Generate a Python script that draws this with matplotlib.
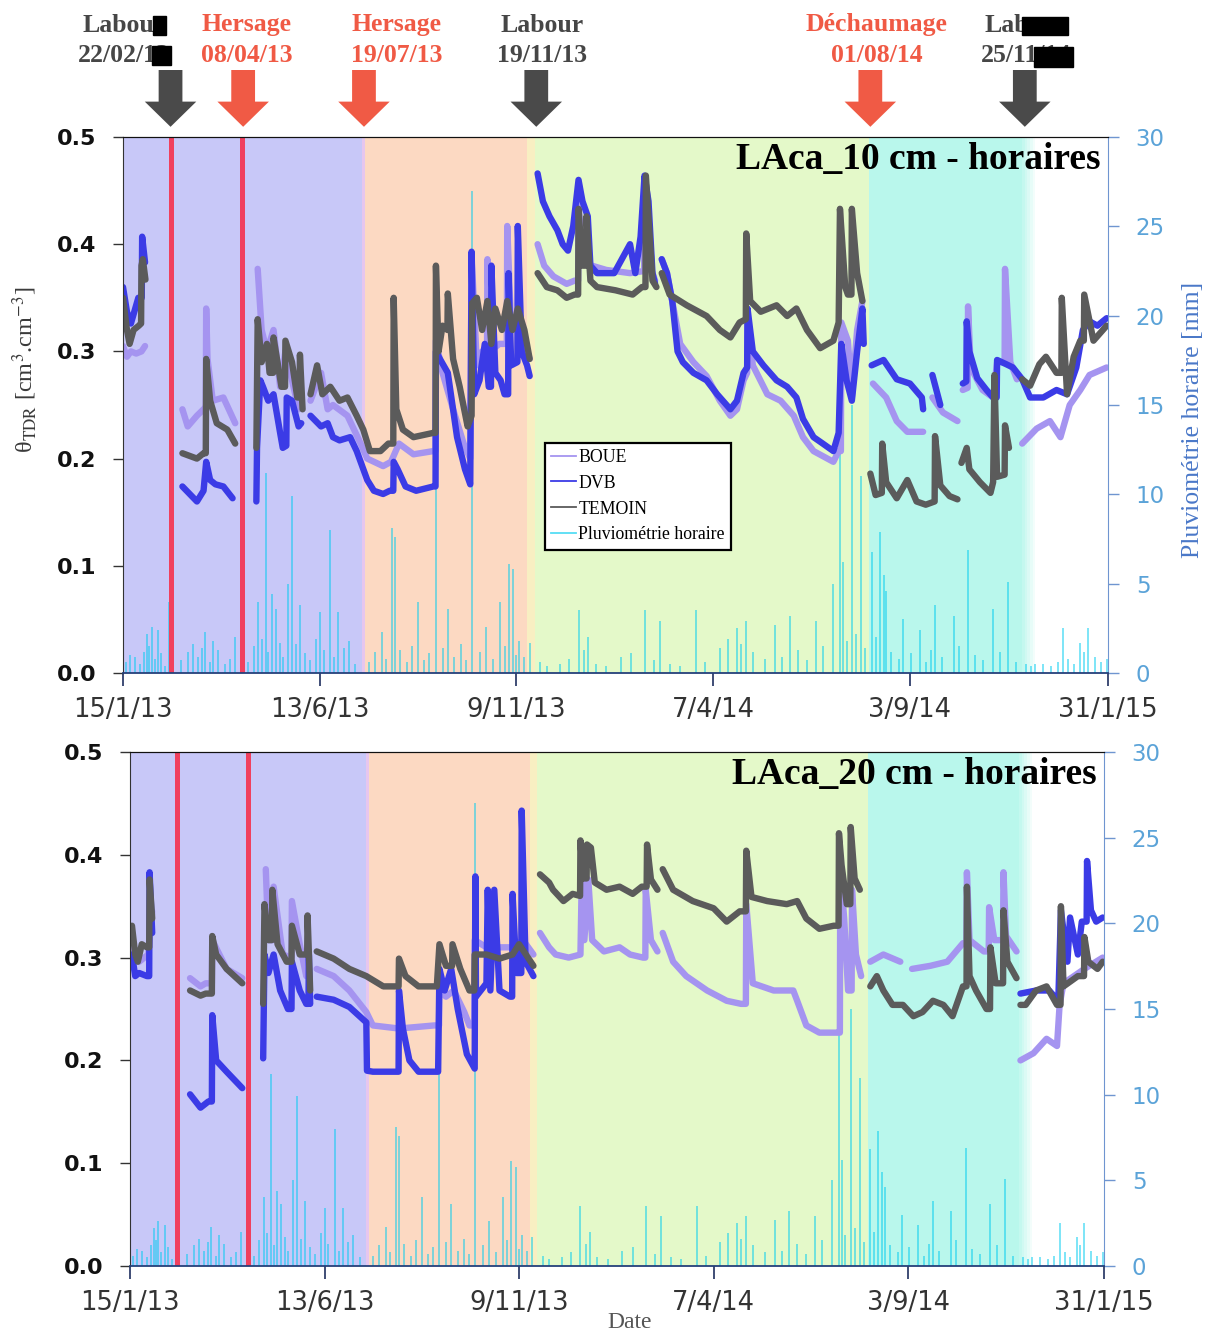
import numpy as np
import matplotlib
matplotlib.use("Agg")
from matplotlib import pyplot as plt
import matplotlib.dates as mdates
import matplotlib.transforms as mtransforms
from matplotlib.patches import FancyArrow, Rectangle
from matplotlib.lines import Line2D

plt.rcParams["mathtext.fontset"] = "stix"

W, H = 1211, 1333
START = "2013-01-15"
SERIF = ["Liberation Serif", "DejaVu Serif"]

# axe des x (jours depuis le 15/1/13)
tick_days = [0, 149, 298, 447, 596, 746]
tick_labels = ["15/1/13", "13/6/13", "9/11/13", "7/4/14", "3/9/14", "31/1/15"]

# periodes culturales (debut, fin en jours)
period_start = [0, 181, 183, 306, 312, 565]
period_end = [181, 183, 306, 312, 565, 681]
period_colors = ["#C8C8F8", "#E6C6EE", "#FCD9C2", "#F8EFC2", "#E4F9C9", "#B9F7EC"]
fade_days = [681, 683, 685, 687, 689, 691]

# traits rouges verticaux
red_line_days = [36, 90.5]

# interventions (texte, date, couleur) + position des fleches
event_top = ["Labour", "Hersage", "Hersage", "Labour", "Déchaumage", "Labour"]
event_date = ["22/02/13", "08/04/13", "19/07/13", "19/11/13", "01/08/14", "25/11/14"]
event_kind = ["labour", "hersage", "hersage", "labour", "hersage", "labour"]
event_arrow_days = [36, 91, 182.5, 313, 566, 683]

# pluviometrie horaire (jour, mm)
rain_big = [(5.3, 1.0), (18, 2.2), (21.7, 2.6), (26.7, 2.4), (35, 4.0), (53, 1.6), (62, 2.3),
            (68, 1.8), (85, 2.0), (102.5, 4.0), (108, 11.2), (112.6, 4.4), (116, 3.6), (125, 5.0),
            (128, 9.9), (134, 3.8), (149, 3.4), (157, 8.0), (163, 3.4), (171, 1.8), (196, 2.3),
            (203.5, 8.1), (206, 7.6), (223.6, 4.0), (237, 13.4), (246, 3.6), (264.5, 27.0),
            (275, 2.6), (285.5, 4.0), (292, 6.1), (295.5, 5.8), (300, 1.8), (308, 1.7), (345, 3.5),
            (352, 2.0), (395, 3.5), (407, 2.9), (434, 3.5), (465, 2.5), (472, 2.9), (494, 2.7),
            (505, 3.2), (525, 2.9), (538, 5.0), (543, 23.0), (545.5, 6.2), (552, 15.0), (559, 11.0),
            (567, 6.8), (573, 7.9), (576, 5.5), (578, 4.6), (591, 3.0), (603.6, 2.4), (615, 3.8),
            (629, 3.2), (640, 6.9), (659, 3.6), (670, 5.1), (684, 0.5), (691, 0.5), (712, 2.5),
            (725, 1.7), (731, 2.5), (745, 0.8)]
rain_small = [(2, 0.6), (9, 0.9), (13, 0.5), (16, 1.2), (20, 1.5), (24, 0.8), (29, 1.1), (32, 0.4),
              (44, 0.7), (49, 1.2), (57, 0.9), (60, 1.4), (66, 0.6), (72, 1.3), (77, 0.5), (81, 0.8),
              (95, 0.6), (99, 1.5), (105, 1.9), (110, 1.2), (119, 1.7), (121, 0.9), (131, 1.6),
              (138, 1.1), (142, 0.7), (146, 1.9), (152, 1.3), (160, 0.9), (167, 1.4), (176, 0.5),
              (186, 0.6), (191, 1.2), (199, 0.8), (210, 1.3), (215, 0.6), (219, 1.5), (228, 0.7),
              (232, 1.1), (242, 1.4), (251, 0.9), (256, 1.6), (260, 0.7), (270, 1.2), (280, 0.8),
              (289, 1.5), (298, 1.0), (304, 0.9), (316, 0.6), (321, 0.4), (331, 0.5), (338, 0.8),
              (349, 1.3), (358, 0.5), (366, 0.4), (377, 0.9), (385, 1.1), (402, 0.7), (414, 0.5),
              (422, 0.4), (441, 0.6), (452, 1.4), (458, 1.9), (468, 1.6), (477, 1.2), (486, 0.8),
              (499, 0.9), (511, 1.3), (518, 0.7), (530, 1.5), (548, 1.8), (555, 2.2), (562, 1.4),
              (570, 2.0), (582, 1.2), (588, 0.8), (597, 1.1), (608, 0.6), (612, 1.3), (620, 0.9),
              (633, 1.5), (645, 1.0), (651, 0.7), (664, 1.2), (676, 0.6), (688, 0.4), (697, 0.5),
              (703, 0.4), (708, 0.6), (716, 0.8), (720, 0.5), (728, 1.2), (736, 0.9), (741, 0.6)]

# --- teneur en eau 10 cm (jour, theta) ---
boue_10 = [
    [(0, .305), (3, .295), (6, .300), (10, .298), (14, .300), (16.7, .305)],
    [(45, .246), (49, .230), (56, .240), (61, .246), (62.7, .248), (63, .340), (64, .293), (68, .254),
     (76, .257), (85, .233)],
    [(102, .377), (105, .320), (109, .300), (114, .320), (119, .267), (123, .300), (128, .273), (133, .246), (135, .260)],
    [(142, .254), (150, .280), (155, .246), (159, .250), (170, .240), (180, .214), (185, .200), (197, .193),
     (203, .197), (209, .214), (220, .204), (235, .207), (236.7, .207), (237, .310), (242, .280), (250, .246),
     (258, .214), (263, .200), (264, .390), (268, .287), (272, .300), (275.7, .300), (276, .386), (278, .300),
     (285, .307), (290.7, .307), (291, .417), (294, .320), (301, .327), (306, .300), (308, .293)],
    [(314, .400), (319, .380), (326, .370), (336, .363), (342, .366), (344.7, .366), (345, .440), (348, .386),
     (355, .380), (366, .376), (384, .373), (394.7, .375), (395, .457), (399, .380), (403, .366)],
    [(408, .386), (412, .373), (417, .340), (422, .307), (432, .290), (442, .277), (452, .254), (460, .240),
     (465, .246), (470, .273), (472.7, .280), (473, .334), (477, .287), (488, .260), (498, .254), (508, .240),
     (515, .220), (523, .207), (538, .197), (542, .207), (543.7, .207), (544, .327), (549, .310), (552, .257),
     (556, .320), (560, .347)],
    [(568, .270), (578, .257), (586, .235), (594, .225), (606, .225)],
    [(613, .257), (621, .243), (632, .235)],
    [(636, .264), (639.7, .266), (640, .342), (642, .285), (651, .264), (659, .257), (662, .290), (667.7, .290),
     (668, .377), (672, .290), (677, .274)],
    [(681, .214), (692, .228), (702, .235), (710, .220), (717, .250), (725, .264), (732, .278), (745, .285)],
]
dvb_10 = [
    [(0, .360), (3, .337), (6, .326), (11.6, .350), (14.2, .350), (14.5, .407), (16.7, .383)],
    [(45, .174), (56, .160), (61, .170), (63, .197), (66, .180), (70, .176), (76, .174), (83, .163)],
    [(101, .160), (101.5, .210), (104, .273), (106, .267), (110, .254), (114, .260), (119, .224), (121, .210),
     (123.7, .212), (124, .257), (128, .254), (133, .230), (135, .233)],
    [(142, .240), (150, .230), (155, .233), (159, .220), (164, .217), (172, .220), (177, .207), (185, .180),
     (190, .170), (197, .167), (202, .170), (204.7, .170), (205, .197), (208, .190), (214, .174), (222, .170),
     (235, .174), (236.7, .174), (237, .300), (240, .293), (246, .280), (253, .220), (259, .190), (263, .176),
     (264, .393), (266, .260), (270, .273), (274, .307), (277, .267), (278.7, .267), (279, .380), (282, .280),
     (286, .273), (289, .260), (291.7, .260), (292, .373), (294, .287), (298.7, .290), (299, .417), (302, .300),
     (306, .287), (308, .277)],
    [(314, .466), (318, .440), (323, .426), (329, .413), (333, .400), (337, .394), (341, .417), (345, .460),
     (348, .440), (352, .426), (354, .380), (359, .373), (372, .373), (384, .400), (388, .373), (392, .407),
     (395, .464), (398, .440), (401, .373), (403, .363)],
    [(408, .386), (412, .373), (416, .347), (420, .300), (424, .290), (432, .280), (442, .273), (450, .260),
     (460, .246), (465, .254), (470, .280), (472.7, .285), (473, .340), (477, .300), (485, .287), (495, .273),
     (503, .267), (510, .257), (515, .237), (523, .220), (530, .214), (538, .207), (542, .224), (544, .307),
     (548, .273), (552, .254), (556, .300), (560, .340), (561, .307)],
    [(567, .287), (576, .292), (586, .274), (596, .270), (605, .257), (606, .246)],
    [(613, .278), (619, .250)],
    [(636, .270), (638.7, .272), (639, .328), (641, .300), (647, .275), (654, .264), (659, .257), (661.7, .257),
     (662, .292), (669, .288), (674, .285), (681, .274), (687, .257), (697, .257), (707, .264), (715, .260),
     (722, .285), (727, .320), (732, .328), (738, .324), (745, .331)],
]
temoin_10 = [
    [(0, .350), (3, .320), (5, .307), (8, .320), (12, .324), (13.7, .326), (14, .380), (15, .386), (17, .367)],
    [(45, .205), (56, .200), (61, .205), (62.7, .205), (63, .293), (66, .254), (71, .233), (79, .227), (85, .214)],
    [(101, .210), (102, .330), (105, .290), (109, .307), (111, .280), (113.7, .280), (114, .313), (120, .267),
     (122.7, .267), (123, .310), (128, .290), (132, .257), (133.7, .257), (134, .297), (136, .246)],
    [(142, .260), (147, .287), (151, .260), (157, .267), (164, .254), (170, .257), (177, .240), (182, .227),
     (187, .207), (195, .207), (201, .214), (204.7, .214), (205, .350), (207, .246), (212, .227), (220, .220),
     (235, .224), (236.7, .224), (237, .380), (239, .300), (242, .324), (245.7, .320), (246, .354), (250, .293),
     (255, .267), (261, .230), (264, .240), (264.5, .345), (268, .350), (272, .320), (276, .347), (279, .307),
     (282, .340), (287, .320), (291, .347), (295, .320), (299, .340), (304, .320), (308, .293)],
    [(314, .373), (321, .360), (329, .357), (336, .350), (342, .353), (344.7, .353), (345, .433), (348, .380),
     (350.7, .380), (351, .426), (354, .366), (359, .360), (373, .357), (386, .353), (393, .360), (395.7, .360),
     (396, .464), (401, .366), (404, .360)],
    [(408, .373), (414, .353), (427, .343), (442, .333), (452, .320), (460, .313), (467, .327), (471.7, .330),
     (472, .410), (475, .347), (483, .337), (495, .343), (503, .333), (510, .340), (518, .320), (528, .303),
     (538, .310), (542, .327), (543, .433), (547, .360), (549, .353), (551.7, .353), (552, .433), (556, .373),
     (560, .347)],
    [(566, .186), (570, .166), (574.7, .168), (575, .214), (578, .178), (586, .163), (594, .180), (601, .160),
     (608, .157), (614.7, .160), (615, .221), (619, .175), (626, .165), (632, .162)],
    [(635, .196), (639, .210), (641, .190), (649, .178), (657, .168), (659, .178), (660, .278), (662, .183),
     (667.7, .185), (668, .231), (671, .210)],
    [(681, .274), (687, .268), (694, .288), (699, .295), (707, .280), (710.7, .280), (711, .350), (715, .260),
     (720, .295), (725, .310), (727.7, .310), (728, .353), (735, .310), (745, .324)],
]

# --- teneur en eau 20 cm ---
boue_20 = [
    [(1.5, .310), (7, .296), (14, .303), (17, .345)],
    [(46, .280), (54, .272), (58, .275), (62.7, .275), (63, .317), (74, .289), (86, .280)],
    [(104, .386), (106, .317), (109.7, .317), (110, .369), (117, .303), (123.7, .300), (124, .355), (130, .313),
     (135, .282)],
    [(143, .289), (156, .282), (168, .268), (181, .247), (186, .234), (206, .231), (233, .234), (236.7, .234),
     (237, .268), (242, .262), (248, .268), (256, .247), (260, .234), (263.7, .234), (264, .317), (273, .310),
     (293, .310), (301, .317), (309, .303)],
    [(314, .324), (321, .310), (326, .303), (336, .300), (345, .303), (346, .376), (348, .317), (351, .376),
     (354, .317), (363, .306), (375, .310), (383, .303), (393, .300), (394.7, .300), (395, .366), (399, .317),
     (404, .306)],
    [(408, .324), (416, .296), (426, .282), (442, .268), (457, .258), (468, .255), (471.7, .255), (472, .352),
     (477, .275), (493, .268), (508, .268), (511, .258), (518, .234), (528, .227), (541, .227), (543.7, .227),
     (544, .386), (547, .338), (550, .268), (552.7, .268), (553, .366), (556, .303), (560, .282)],
    [(567, .296), (577, .303), (590, .296)],
    [(599, .289), (613, .292), (626, .296), (638, .314), (640.7, .314), (641, .383), (643, .317), (654, .306),
     (657.7, .306), (658, .349), (662, .317), (668.7, .317), (669, .383), (671, .321), (679, .306)],
    [(682, .200), (692, .207), (702, .221), (710, .214), (712, .254), (715, .275), (731, .289), (745, .300)],
]
dvb_20 = [
    [(1.5, .303), (4, .282), (7, .285), (13, .282), (14.7, .282), (15, .383), (17, .324)],
    [(46, .167), (54, .154), (60, .160), (62.7, .160), (63, .244), (66, .200), (74, .189), (86, .173)],
    [(102, .202), (103, .303), (106, .285), (110, .303), (115, .268), (121, .250), (123.7, .250), (124, .296),
     (130, .268), (135, .255), (136.7, .255), (137, .303), (138, .255)],
    [(143, .262), (156, .259), (168, .252), (181, .237), (181.5, .190), (186, .189), (201, .189), (205.7, .189),
     (206, .268), (209, .231), (214, .200), (221, .189), (236, .189), (237, .289), (241, .268), (246, .289),
     (251, .250), (258, .206), (264, .192), (264.5, .379), (265, .262), (273, .275), (274, .366), (276, .268),
     (279, .366), (283, .268), (291, .262), (292.7, .262), (293, .362), (296, .285), (299.7, .285), (300, .443),
     (303, .296), (309, .282)],
    [(682, .265), (694, .268), (704, .268), (711, .258), (713, .346), (718, .296), (720, .339), (726, .303),
     (729, .335), (732.7, .335), (733, .394), (736, .346), (740, .335), (745, .339)],
]
temoin_20 = [
    [(1.5, .331), (4, .303), (6, .296), (9, .313), (13, .310), (14.7, .310), (15, .376), (17, .338)],
    [(46, .268), (54, .263), (58, .265), (62.7, .265), (63, .321), (66, .303), (74, .289), (86, .275)],
    [(102, .255), (103, .352), (106, .317), (108.7, .317), (109, .366), (113, .313), (120, .296), (123.7, .296),
     (124, .331), (130, .303), (135.7, .303), (136, .341), (138, .268)],
    [(143, .306), (156, .299), (168, .289), (181, .282), (194, .272), (202, .272), (205.7, .272), (206, .299),
     (211, .282), (221, .272), (235, .272), (237, .313), (242, .292), (246.7, .292), (247, .313), (253, .289),
     (260, .268), (263.7, .268), (264, .303), (273, .303), (283, .299), (293, .303), (298, .313), (309, .292)],
    [(314, .381), (321, .373), (324, .366), (332, .355), (339, .362), (344.7, .360), (345, .414), (347, .377),
     (349.7, .377), (350, .410), (353, .407), (356, .373), (365, .366), (375, .369), (385, .362), (392, .369),
     (395.7, .369), (396, .410), (399, .376), (404, .366)],
    [(408, .386), (416, .366), (431, .355), (447, .348), (457, .335), (467, .345), (471.7, .345), (472, .404),
     (476, .359), (488, .355), (503, .352), (511, .355), (518, .338), (528, .328), (539, .331), (542.7, .331),
     (543, .421), (545, .390), (549, .352), (551.7, .352), (552, .427), (555, .377), (559, .366)],
    [(567, .272), (572, .282), (577, .268), (584, .254), (592, .254), (600, .243), (607, .247), (615, .258),
     (623, .254), (630, .243), (638, .272), (640.7, .272), (641, .369), (643, .282), (648, .268), (656, .250),
     (658.7, .250), (659, .310), (663, .275), (668.7, .275), (669, .346), (672, .296), (679, .280)],
    [(682, .254), (686, .254), (694, .268), (702, .272), (710, .254), (712.7, .254), (713, .350), (715, .272),
     (726, .282), (730.7, .282), (731, .320), (734, .296), (741, .289), (745, .296)],
]

C_BOUE = "#A594F0"
C_DVB = "#3B3BE6"
C_TEMOIN = "#5B5B5B"
C_RAIN = "#00CCF0"
C_RED = "#F0405E"
C_LABOUR = "#464646"
C_HERSAGE = "#F05A45"

BASE = mdates.date2num(np.datetime64(START))


def xs(days):
    return BASE + np.asarray(days, dtype=float)


def fig_xy(px, py):
    return px / W, 1 - py / H


def draw_panel(fig, rect, series, title, legend=False):
    ax = fig.add_axes(rect)
    ax2 = ax.twinx()
    ax.set_zorder(ax2.get_zorder() + 1)
    ax.patch.set_visible(False)

    for d0, d1, c in zip(period_start, period_end, period_colors):
        ax2.axvspan(xs(d0), xs(d1), color=c, lw=0, zorder=0)
    # fondu du cyan vers le blanc
    for i in range(len(fade_days) - 1):
        a = 1 - (i + 1) / len(fade_days)
        ax2.axvspan(xs(fade_days[i]), xs(fade_days[i + 1]), color=period_colors[-1], alpha=a, lw=0, zorder=0)

    for rain in (rain_small, rain_big):
        d, mm = zip(*rain)
        ax2.vlines(xs(d), 0, mm, color=C_RAIN, alpha=0.55, lw=1.3, zorder=1)
    for d in red_line_days:
        ax2.axvline(xs(d), color=C_RED, lw=3.6, zorder=2)

    for name, color in [("BOUE", C_BOUE), ("DVB", C_DVB), ("TEMOIN", C_TEMOIN)]:
        for seg in series[name]:
            d, v = zip(*seg)
            ax.plot(xs(d), v, color=color, lw=4.6, solid_joinstyle="round", solid_capstyle="round")

    ax.set_xlim(xs(0), xs(746))
    ax.set_ylim(0, 0.5)
    ax2.set_ylim(0, 30)
    ax.set_xticks(xs(tick_days))
    ax.set_xticklabels(tick_labels)
    ax.set_yticks(np.arange(0, 0.51, 0.1))
    ax.set_yticklabels(["%.1f" % v for v in np.arange(0, 0.51, 0.1)])
    ax2.set_yticks(range(0, 31, 5))

    ax.tick_params(axis="y", direction="out", length=7, width=1, labelsize=16, pad=12, colors="#333333",
                   labelcolor="#111111")
    for lab in ax.get_yticklabels():
        lab.set_fontweight("bold")
    ax.tick_params(axis="x", direction="out", length=9, width=1.2, labelsize=18.5, pad=8,
                   colors="#1F2F5F", labelcolor="#333333")
    ax2.tick_params(axis="y", direction="out", length=8, width=1, labelsize=16.5, pad=12,
                    colors="#6F95D0", labelcolor="#5BA3D8")

    for s in ("left", "bottom"):
        ax2.spines[s].set_visible(False)
    ax.spines["right"].set_visible(False)
    ax.spines["left"].set_color("#333333")
    ax.spines["bottom"].set_color("#25407A")
    ax.spines["bottom"].set_linewidth(1.3)
    ax.spines["top"].set_color("#111111")
    ax2.spines["top"].set_color("#111111")
    ax2.spines["right"].set_color("#6F95D0")

    ax.text(0.992, 0.99, title, transform=ax.transAxes, ha="right", va="top",
            family=SERIF, fontweight="bold", fontsize=27, zorder=10)

    if legend:
        handles = [Line2D([], [], color=C_BOUE, lw=1.3), Line2D([], [], color=C_DVB, lw=1.3),
                   Line2D([], [], color=C_TEMOIN, lw=1.3), Line2D([], [], color="#55DDF5", lw=1.3)]
        leg = ax.legend(handles, ["BOUE", "DVB", "TEMOIN", "Pluviométrie horaire"],
                        loc="upper left", bbox_to_anchor=(0.428, 0.43), frameon=True, fancybox=False,
                        prop={"family": SERIF, "size": 12.8}, handlelength=1.4, handletextpad=0.15,
                        borderpad=0.35, labelspacing=0.5, borderaxespad=0)
        leg.get_frame().set_edgecolor("black")
        leg.get_frame().set_linewidth(1.6)
        leg.get_frame().set_facecolor("white")
        leg.get_frame().set_alpha(1)
    return ax, ax2


def draw_events(fig, ax):
    trans = mtransforms.blended_transform_factory(ax.transData, ax.transAxes)
    label_cx = [124, 247, 397, 542, 877, 1026]
    for top, date, kind, d, cx in zip(event_top, event_date, event_kind, event_arrow_days, label_cx):
        col = C_LABOUR if kind == "labour" else C_HERSAGE
        arr = FancyArrow(xs(d), 1.125, 0, -0.106, width=18, head_width=39, head_length=0.047,
                         length_includes_head=True, transform=trans, clip_on=False,
                         color=col if kind == "hersage" else "#4A4A4A", lw=0)
        ax.add_artist(arr)
        x, y = fig_xy(cx, 25)
        fig.text(x, y, top, ha="center", va="center", color=col, family=SERIF,
                 fontweight="bold", fontsize=18.5)
        x, y = fig_xy(cx, 55)
        fig.text(x, y, date, ha="center", va="center", color=col, family=SERIF,
                 fontweight="bold", fontsize=18.5)
    # caches noirs presents sur l'image d'origine
    for px0, py0, px1, py1 in [(153, 16, 166, 35), (152, 46, 171, 65), (1022, 17, 1068, 35), (1034, 47, 1073, 67)]:
        x0, y1 = fig_xy(px0, py1)
        x1, y0 = fig_xy(px1, py0)
        fig.patches.append(Rectangle((x0, y1), x1 - x0, y0 - y1, transform=fig.transFigure,
                                     color="black", zorder=20))


def main():
    fig = plt.figure(figsize=(W / 100, H / 100), dpi=100)
    top = {"BOUE": boue_10, "DVB": dvb_10, "TEMOIN": temoin_10}
    bot = {"BOUE": boue_20, "DVB": dvb_20, "TEMOIN": temoin_20}
    ax_t, _ = draw_panel(fig, [123 / W, 1 - 673 / H, 985 / W, 536 / H], top,
                         "LAca_10 cm - horaires", legend=True)
    draw_panel(fig, [130 / W, 1 - 1266 / H, 974 / W, 514 / H], bot, "LAca_20 cm - horaires")
    draw_events(fig, ax_t)

    x, y = fig_xy(25, 370)
    fig.text(x, y, r"θ$_{\mathrm{TDR}}$ [cm$^3$.cm$^{-3}$]", rotation=90, ha="center", va="center",
             family=SERIF, fontsize=17.5, color="#3A3A3A")
    x, y = fig_xy(1193, 420)
    fig.text(x, y, "Pluviométrie horaire [mm]", rotation=90, ha="center", va="center",
             family=SERIF, fontsize=18.5, color="#4A78C8")
    x, y = fig_xy(630, 1323)
    fig.text(x, y, "Date", ha="center", va="center", family=SERIF, fontsize=17, color="#555555")

    fig.savefig("out.png", dpi=100)


if __name__ == "__main__":
    main()
